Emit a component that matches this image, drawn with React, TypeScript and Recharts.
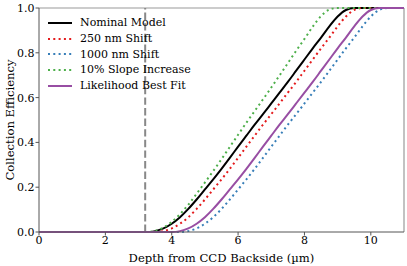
import { LineChart, Line, XAxis, YAxis, ReferenceLine } from 'recharts';

const depth = [0, 3.0, 3.25, 3.5, 3.75, 4.0, 4.25, 4.5, 4.75, 5.0, 5.25, 5.5, 5.75, 6.0, 6.25, 6.5, 6.75, 7.0, 7.25, 7.5, 7.75, 8.0, 8.25, 8.5, 8.75, 9.0, 9.25, 9.5, 9.75, 10.0, 10.25, 10.5, 11];

const nominal = [0, 0, 0, 0.004, 0.016, 0.037, 0.066, 0.103, 0.145, 0.19, 0.235, 0.282, 0.331, 0.381, 0.43, 0.479, 0.526, 0.574, 0.622, 0.67, 0.72, 0.77, 0.82, 0.868, 0.918, 0.962, 0.991, 1, 1, 1, 1, 1, 1];
const shift250 = [0, 0, 0, 0, 0.004, 0.016, 0.037, 0.066, 0.103, 0.145, 0.19, 0.235, 0.282, 0.331, 0.381, 0.43, 0.479, 0.526, 0.574, 0.622, 0.67, 0.72, 0.77, 0.82, 0.868, 0.918, 0.962, 0.991, 1, 1, 1, 1, 1];
const shift1000 = [0, 0, 0, 0, 0, 0, 0, 0.004, 0.016, 0.037, 0.066, 0.103, 0.145, 0.19, 0.235, 0.282, 0.331, 0.381, 0.43, 0.479, 0.526, 0.574, 0.622, 0.67, 0.72, 0.77, 0.82, 0.868, 0.918, 0.962, 0.991, 1, 1];
const slope10 = [0, 0, 0, 0.005, 0.02, 0.045, 0.08, 0.122, 0.171, 0.221, 0.272, 0.325, 0.38, 0.434, 0.488, 0.54, 0.592, 0.645, 0.699, 0.754, 0.809, 0.862, 0.917, 0.964, 0.993, 1, 1, 1, 1, 1, 1, 1, 1];
const bestFit = [0, 0, 0, 0, 0, 0, 0.004, 0.016, 0.037, 0.066, 0.103, 0.145, 0.19, 0.235, 0.282, 0.331, 0.381, 0.43, 0.479, 0.526, 0.574, 0.622, 0.67, 0.72, 0.77, 0.82, 0.868, 0.918, 0.962, 0.991, 1, 1, 1];

const xTicks = [0, 2, 4, 6, 8, 10];
const yTicks = [0, 0.2, 0.4, 0.6, 0.8, 1.0];
const frontSide = 3.2;

const series = [
  { key: 'nominal', name: 'Nominal Model', color: '#000000', dash: undefined },
  { key: 'shift250', name: '250 nm Shift', color: '#e41a1c', dash: '2 3.3' },
  { key: 'shift1000', name: '1000 nm Shift', color: '#377eb8', dash: '2 3.3' },
  { key: 'slope10', name: '10% Slope Increase', color: '#4daf4a', dash: '2 3.3' },
  { key: 'bestFit', name: 'Likelihood Best Fit', color: '#984ea3', dash: undefined },
];

const data = depth.map((d, i) => ({
  depth: d,
  nominal: nominal[i],
  shift250: shift250[i],
  shift1000: shift1000[i],
  slope10: slope10[i],
  bestFit: bestFit[i],
}));

const font = 'DejaVu Serif';

// legend sits inside the plot, top-left, no frame
const LegendBox = () => (
  <div style={{ position: 'absolute', left: 48, top: 15, fontFamily: font, fontSize: 11, color: '#000', lineHeight: 1 }}>
    {series.map((s) => (
      <div key={s.key} style={{ display: 'flex', alignItems: 'center', height: 15.7 }}>
        <svg width={24} height={4} style={{ marginRight: 8 }}>
          <line x1={0} y1={2} x2={24} y2={2} stroke={s.color} strokeWidth={2} strokeDasharray={s.dash} />
        </svg>
        <span>{s.name}</span>
      </div>
    ))}
  </div>
);

export default function App() {
  return (
    <div style={{ position: 'absolute', left: 0, top: 0, width: 407, height: 266 }}>
      <LineChart width={407} height={266} data={data} margin={{ top: 8, right: 3, bottom: 0, left: 0 }}>
        <XAxis
          dataKey="depth"
          type="number"
          domain={[0, 11]}
          ticks={xTicks}
          tick={{ fontFamily: font, fontSize: 11, fill: '#000' }}
          tickSize={3.5}
          tickMargin={1}
          stroke="#555"
          height={34}
          label={{ value: 'Depth from CCD Backside (\u00b5m)', position: 'insideBottom', offset: 4, fontFamily: font, fontSize: 11.6, fill: '#000' }}
        />
        <YAxis
          type="number"
          domain={[0, 1]}
          ticks={yTicks}
          tickFormatter={(v: number) => v.toFixed(1)}
          tick={{ fontFamily: font, fontSize: 11, fill: '#000' }}
          tickSize={3.5}
          tickMargin={1}
          stroke="#555"
          width={39}
          label={{ value: 'Collection Efficiency', angle: -90, position: 'insideLeft', offset: 10, style: { textAnchor: 'middle' }, fontFamily: font, fontSize: 11.6, fill: '#000' }}
        />
        <ReferenceLine y={1} stroke="#999" strokeWidth={1.2} />
        <ReferenceLine x={11} stroke="#999" strokeWidth={1.2} />
        <ReferenceLine x={frontSide} stroke="#888" strokeWidth={2} strokeDasharray="7.4 3.2" />
        {series.map((s) => (
          <Line
            key={s.key}
            dataKey={s.key}
            name={s.name}
            type="monotone"
            stroke={s.color}
            strokeWidth={2}
            strokeDasharray={s.dash}
            dot={false}
            isAnimationActive={false}
          />
        ))}
      </LineChart>
      <LegendBox />
    </div>
  );
}
